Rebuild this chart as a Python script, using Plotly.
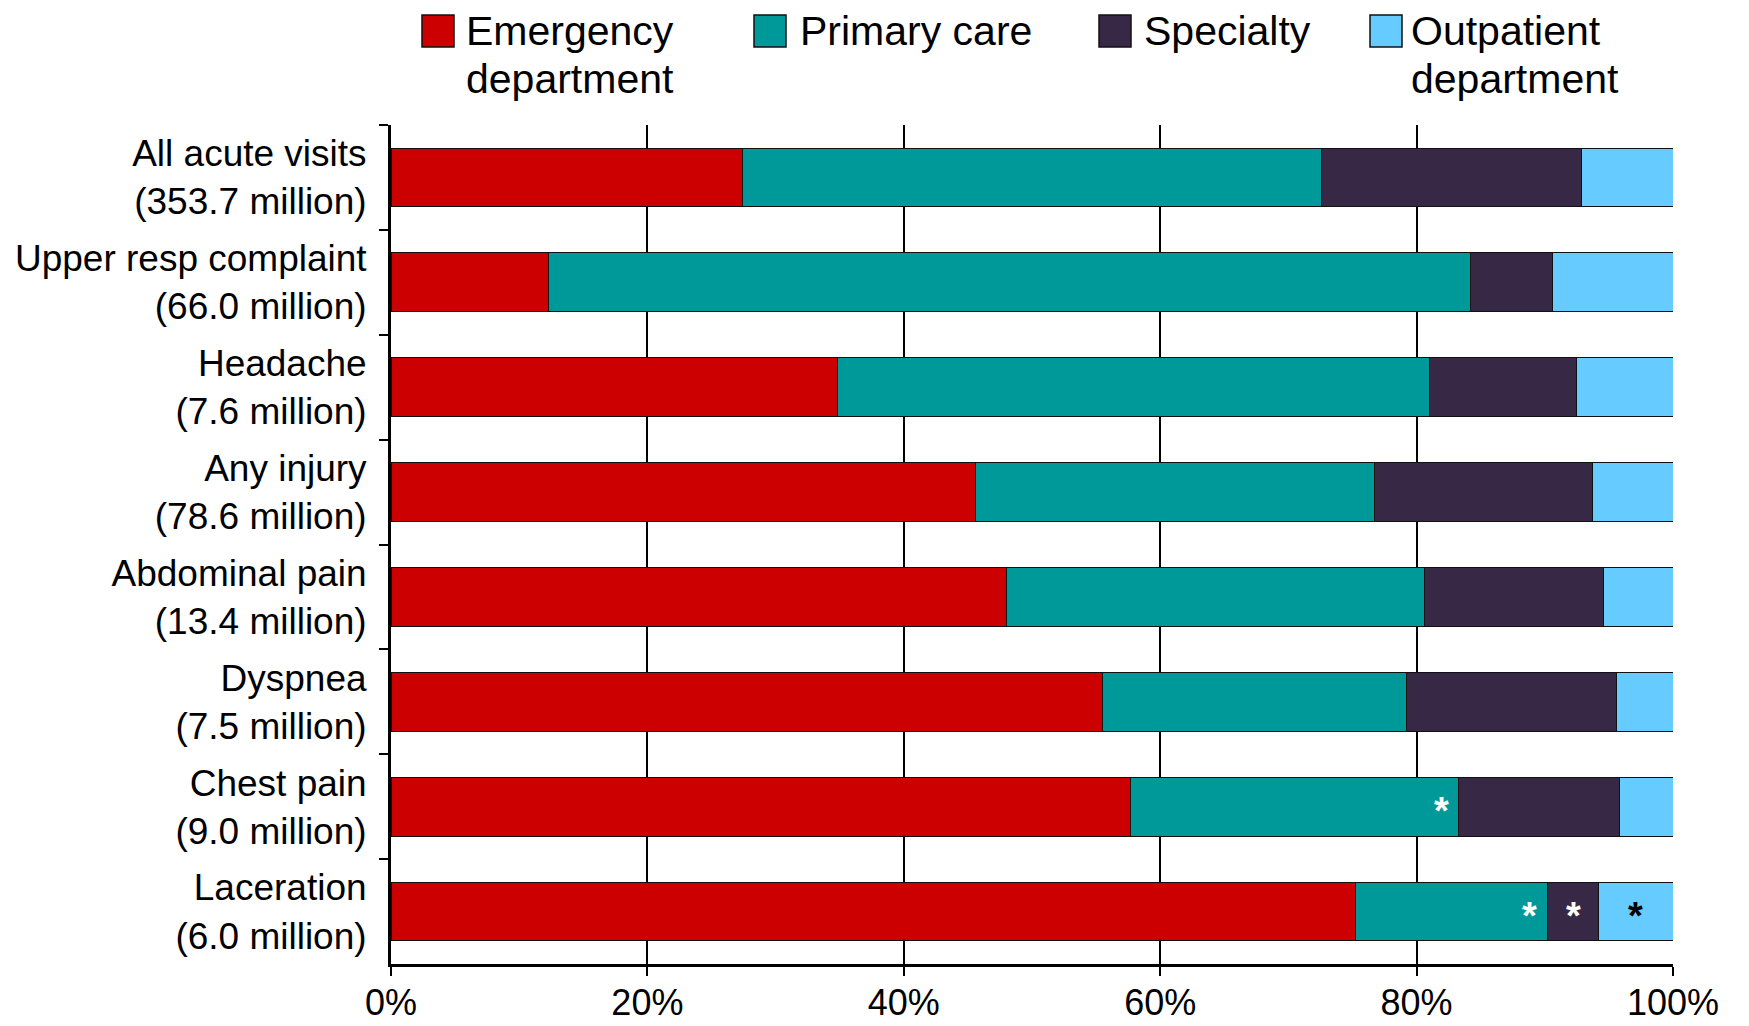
import plotly.graph_objects as go

# ---------------- data ----------------
categories = ["All acute visits", "Upper resp complaint", "Headache", "Any injury",
              "Abdominal pain", "Dyspnea", "Chest pain", "Laceration"]
totals_million = ["353.7", "66.0", "7.6", "78.6", "13.4", "7.5", "9.0", "6.0"]

series_names = ["Emergency<br>department", "Primary care", "Specialty", "Outpatient<br>department"]
emergency = [27.4, 12.3, 34.8, 45.6, 48.0, 55.5, 57.7, 75.2]
primary_care = [45.2, 71.9, 46.2, 31.1, 32.6, 23.7, 25.6, 15.0]
specialty = [20.3, 6.4, 11.5, 17.0, 14.0, 16.4, 12.5, 4.0]
outpatient = [7.1, 9.4, 7.5, 6.3, 5.4, 4.4, 4.2, 5.8]

# asterisk flags (unreliable estimate markers) per series
flag_primary = [0, 0, 0, 0, 0, 0, 1, 1]
flag_specialty = [0, 0, 0, 0, 0, 0, 0, 1]
flag_outpatient = [0, 0, 0, 0, 0, 0, 0, 1]

x_tick_vals = [0, 20, 40, 60, 80, 100]
x_tick_text = ["0%", "20%", "40%", "60%", "80%", "100%"]

# ---------------- style ----------------
colors = ["#CC0000", "#009999", "#372846", "#66CCFF"]
asterisk_colors = [None, "white", "white", "black"]
FONT = "Liberation Sans, Arial, sans-serif"
OFF = 8  # page body margin
W, H = 1749 - OFF, 1026 - OFF
# target plot area in screenshot pixels: x 391..1673, y 125..964
L, T = 391 - OFF, 125 - OFF
R = W - (1673 - OFF)
B = H - (964 - OFF)

labels = [f"{c}<br>({t} million)" for c, t in zip(categories, totals_million)]
series = [emergency, primary_care, specialty, outpatient]
flags = [None, flag_primary, flag_specialty, flag_outpatient]

fig = go.Figure()
for name, vals, col in zip(series_names, series, colors):
    fig.add_trace(go.Bar(
        y=labels, x=vals, orientation="h", name=name.replace("<br>", " "),
        marker=dict(color=col, line=dict(color="#111111", width=1)),
        showlegend=False,
    ))

# asterisk annotations, positioned from cumulative data
annotations = []
for si in range(1, 4):
    for ci, lab in enumerate(labels):
        if not flags[si][ci]:
            continue
        start = sum(series[k][ci] for k in range(si))
        end = start + series[si][ci]
        if si == 1:
            annotations.append(dict(x=end, y=lab, xref="x", yref="y", text="<b>*</b>",
                                    showarrow=False, xanchor="right", yanchor="middle",
                                    xshift=-8, yshift=-4,
                                    font=dict(size=38, color=asterisk_colors[si], family=FONT)))
        else:
            annotations.append(dict(x=(start + end) / 2, y=lab, xref="x", yref="y", text="<b>*</b>",
                                    showarrow=False, xanchor="center", yanchor="middle",
                                    yshift=-4,
                                    font=dict(size=38, color=asterisk_colors[si], family=FONT)))

# custom legend (big squares, first-line aligned); positions in screenshot pixels
pw, ph = W - L - R, H - T - B
def px_x(px):
    return (px - OFF - L) / pw
def px_y(py):
    return (H - B - (py - OFF)) / ph

legend_sq_x = [422, 754, 1099, 1370]
legend_txt_x = [465, 799, 1143, 1410]
sq_top, sq_bot = 15, 47
line_centers = [31, 79]
shapes = []
for i, name in enumerate(series_names):
    shapes.append(dict(type="rect", xref="paper", yref="paper",
                       x0=px_x(legend_sq_x[i]), x1=px_x(legend_sq_x[i] + 32),
                       y0=px_y(sq_bot), y1=px_y(sq_top),
                       fillcolor=colors[i], line=dict(color="#111111", width=1.5)))
    for li, line in enumerate(name.split("<br>")):
        annotations.append(dict(x=px_x(legend_txt_x[i]), y=px_y(line_centers[li]),
                                xref="paper", yref="paper", text=line, showarrow=False,
                                xanchor="left", yanchor="middle", borderpad=0,
                                font=dict(size=41, color="black", family=FONT)))

fig.update_layout(
    width=W, height=H,
    margin=dict(l=L, r=R, t=T, b=B, pad=0, autoexpand=False),
    barmode="stack", bargap=0.44,
    plot_bgcolor="white", paper_bgcolor="white",
    font=dict(family=FONT, color="black"),
    annotations=annotations, shapes=shapes,
    showlegend=False,
)
fig.update_xaxes(
    range=[0, 100], tickvals=x_tick_vals, ticktext=x_tick_text,
    showgrid=True, gridcolor="black", gridwidth=2, zeroline=False,
    showline=True, linecolor="black", linewidth=3,
    ticks="outside", ticklen=9, tickwidth=2, tickcolor="black",
    tickfont=dict(size=36, family=FONT, color="black"),
    ticklabelstandoff=-4, automargin=False,
)
fig.update_yaxes(
    type="category", autorange="reversed",
    showgrid=False, zeroline=False,
    showline=True, linecolor="black", linewidth=3,
    ticks="outside", tickson="boundaries", ticklen=9, tickwidth=2, tickcolor="black",
    tickfont=dict(size=37, family=FONT, color="black"),
    ticklabelstandoff=14, automargin=False,
)

fig.write_html("out.html")
